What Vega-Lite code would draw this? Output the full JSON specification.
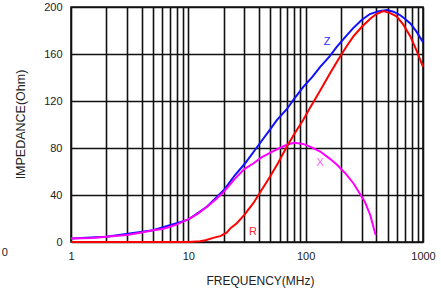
{
  "$schema": "https://vega.github.io/schema/vega-lite/v6.json",
  "width": 352,
  "height": 235,
  "autosize": {"type": "none"},
  "padding": {"left": 71, "top": 7, "right": 18, "bottom": 48},
  "background": "white",
  "config": {
    "view": {"stroke": "#111", "strokeWidth": 1.6},
    "font": "Liberation Sans"
  },
  "resolve": {"scale": {"color": "independent"}},
  "datasets": {
    "curves": [
      {"series": "Z", "f": 1, "v": 3},
      {"series": "Z", "f": 2, "v": 4.5},
      {"series": "Z", "f": 5, "v": 10},
      {"series": "Z", "f": 10, "v": 19},
      {"series": "Z", "f": 14.4, "v": 30},
      {"series": "Z", "f": 20, "v": 44},
      {"series": "Z", "f": 25, "v": 57},
      {"series": "Z", "f": 30.5, "v": 67},
      {"series": "Z", "f": 40, "v": 83},
      {"series": "Z", "f": 50, "v": 96},
      {"series": "Z", "f": 57, "v": 104},
      {"series": "Z", "f": 69, "v": 113},
      {"series": "Z", "f": 80, "v": 122},
      {"series": "Z", "f": 95.5, "v": 132},
      {"series": "Z", "f": 115, "v": 141},
      {"series": "Z", "f": 133, "v": 149},
      {"series": "Z", "f": 160, "v": 158},
      {"series": "Z", "f": 184, "v": 166},
      {"series": "Z", "f": 220, "v": 175},
      {"series": "Z", "f": 254, "v": 182},
      {"series": "Z", "f": 300, "v": 189},
      {"series": "Z", "f": 353, "v": 194},
      {"series": "Z", "f": 420, "v": 196.5},
      {"series": "Z", "f": 495, "v": 197.5},
      {"series": "Z", "f": 560, "v": 196},
      {"series": "Z", "f": 640, "v": 193},
      {"series": "Z", "f": 700, "v": 190},
      {"series": "Z", "f": 780, "v": 186},
      {"series": "Z", "f": 880, "v": 179},
      {"series": "Z", "f": 1000, "v": 170},
      {"series": "X", "f": 1, "v": 3},
      {"series": "X", "f": 1.5, "v": 3.5},
      {"series": "X", "f": 2, "v": 4.5},
      {"series": "X", "f": 3, "v": 6},
      {"series": "X", "f": 4, "v": 8},
      {"series": "X", "f": 5, "v": 10},
      {"series": "X", "f": 6, "v": 11},
      {"series": "X", "f": 7, "v": 13},
      {"series": "X", "f": 8, "v": 15},
      {"series": "X", "f": 10, "v": 19.5},
      {"series": "X", "f": 12, "v": 24},
      {"series": "X", "f": 14.4, "v": 30},
      {"series": "X", "f": 17, "v": 36},
      {"series": "X", "f": 20, "v": 42.5},
      {"series": "X", "f": 25, "v": 54},
      {"series": "X", "f": 30, "v": 62},
      {"series": "X", "f": 36, "v": 67},
      {"series": "X", "f": 42, "v": 72},
      {"series": "X", "f": 50, "v": 76},
      {"series": "X", "f": 60, "v": 80},
      {"series": "X", "f": 70, "v": 83},
      {"series": "X", "f": 80, "v": 84.5},
      {"series": "X", "f": 95, "v": 83.5},
      {"series": "X", "f": 110, "v": 81},
      {"series": "X", "f": 133, "v": 77},
      {"series": "X", "f": 160, "v": 71},
      {"series": "X", "f": 184, "v": 66},
      {"series": "X", "f": 220, "v": 58},
      {"series": "X", "f": 255, "v": 50},
      {"series": "X", "f": 290, "v": 41},
      {"series": "X", "f": 320, "v": 34},
      {"series": "X", "f": 355, "v": 23},
      {"series": "X", "f": 380, "v": 12},
      {"series": "X", "f": 395, "v": 6},
      {"series": "R", "f": 1, "v": 0},
      {"series": "R", "f": 5, "v": 0},
      {"series": "R", "f": 10, "v": 0},
      {"series": "R", "f": 12.6, "v": 0.7},
      {"series": "R", "f": 14, "v": 1.5},
      {"series": "R", "f": 16.3, "v": 3.5},
      {"series": "R", "f": 18.7, "v": 5},
      {"series": "R", "f": 21.2, "v": 8},
      {"series": "R", "f": 23, "v": 12},
      {"series": "R", "f": 25.9, "v": 16},
      {"series": "R", "f": 30, "v": 23},
      {"series": "R", "f": 35.8, "v": 33},
      {"series": "R", "f": 42, "v": 44},
      {"series": "R", "f": 49.6, "v": 55.6},
      {"series": "R", "f": 58, "v": 67},
      {"series": "R", "f": 69, "v": 81},
      {"series": "R", "f": 80, "v": 92},
      {"series": "R", "f": 95.5, "v": 104},
      {"series": "R", "f": 110, "v": 115},
      {"series": "R", "f": 133, "v": 129},
      {"series": "R", "f": 160, "v": 143},
      {"series": "R", "f": 196, "v": 157.7},
      {"series": "R", "f": 225, "v": 167},
      {"series": "R", "f": 255, "v": 175},
      {"series": "R", "f": 300, "v": 183},
      {"series": "R", "f": 355, "v": 190},
      {"series": "R", "f": 400, "v": 194},
      {"series": "R", "f": 460, "v": 196.6},
      {"series": "R", "f": 520, "v": 195},
      {"series": "R", "f": 595, "v": 192},
      {"series": "R", "f": 680, "v": 185},
      {"series": "R", "f": 780, "v": 175},
      {"series": "R", "f": 880, "v": 163},
      {"series": "R", "f": 1000, "v": 149}
    ],
    "labels": [
      {"series": "Z", "f": 152, "v": 170, "t": "Z"},
      {"series": "X", "f": 133, "v": 67, "t": "X"},
      {"series": "R", "f": 35.6, "v": 8.5, "t": "R"}
    ],
    "stray": [
      {"f": 0.273, "v": -9.4, "t": "0"}
    ]
  },
  "layer": [
    {
      "data": {"name": "curves"},
      "transform": [{"filter": "datum.series === 'Z'"}],
      "mark": {"type": "line", "strokeWidth": 2, "clip": true},
      "encoding": {
        "x": {
          "field": "f", "type": "quantitative",
          "scale": {"type": "log", "domain": [1, 1000], "nice": false},
          "axis": {
            "values": [1,2,3,4,5,6,7,8,9,10,20,30,40,50,60,70,80,90,100,200,300,400,500,600,700,800,900,1000],
            "format": "d",
            "labelExpr": "indexof([1,10,100,1000], datum.value) >= 0 ? datum.label : ''",
            "labelOverlap": false,
            "labelFlush": false,
            "grid": true, "gridColor": "#111", "gridOpacity": 1, "gridWidth": 1.6,
            "ticks": false, "domain": false,
            "labelPadding": 8, "labelFontSize": 11, "labelColor": "#222",
            "title": "FREQUENCY(MHz)", "titleFontWeight": "normal", "titleFontSize": 12,
            "titleColor": "#222", "titleX": 189, "titleY": 38, "titleBaseline": "middle", "titleAlign": "center"
          }
        },
        "y": {
          "field": "v", "type": "quantitative",
          "scale": {"domain": [0, 200], "nice": false},
          "axis": {
            "values": [0,20,40,60,80,100,120,140,160,180,200],
            "labelExpr": "datum.value % 40 === 0 ? datum.label : ''",
            "labelOverlap": false,
            "labelFlush": false,
            "grid": true, "gridColor": "#111", "gridOpacity": 1, "gridWidth": 1.6,
            "ticks": false, "domain": false,
            "labelPadding": 9, "labelFontSize": 11, "labelColor": "#222",
            "title": "IMPEDANCE(Ohm)", "titleFontWeight": "normal", "titleFontSize": 12.5,
            "titleColor": "#222", "titleX": -51, "titleY": 117, "titleAngle": -90,
            "titleBaseline": "middle", "titleAlign": "center"
          }
        },
        "color": {
          "field": "series", "type": "nominal",
          "scale": {"domain": ["Z"], "range": ["#1010ff"]},
          "legend": null
        }
      }
    },
    {
      "data": {"name": "curves"},
      "transform": [{"filter": "datum.series === 'X'"}],
      "mark": {"type": "line", "strokeWidth": 2, "clip": true},
      "encoding": {
        "x": {"field": "f", "type": "quantitative"},
        "y": {"field": "v", "type": "quantitative"},
        "color": {
          "field": "series", "type": "nominal",
          "scale": {"domain": ["X"], "range": ["#ff00ff"]},
          "legend": null
        }
      }
    },
    {
      "data": {"name": "curves"},
      "transform": [{"filter": "datum.series === 'R'"}],
      "mark": {"type": "line", "strokeWidth": 2, "clip": false},
      "encoding": {
        "x": {"field": "f", "type": "quantitative"},
        "y": {"field": "v", "type": "quantitative"},
        "color": {
          "field": "series", "type": "nominal",
          "scale": {"domain": ["R"], "range": ["#ff0000"]},
          "legend": null
        }
      }
    },
    {
      "data": {"name": "labels"},
      "mark": {"type": "text", "fontSize": 11, "align": "center", "baseline": "middle"},
      "encoding": {
        "x": {"field": "f", "type": "quantitative"},
        "y": {"field": "v", "type": "quantitative"},
        "text": {"field": "t"},
        "color": {
          "field": "series", "type": "nominal",
          "scale": {"domain": ["Z", "X", "R"], "range": ["#2a2aff", "#ff5cff", "#ff2a2a"]},
          "legend": null
        }
      }
    },
    {
      "data": {"name": "stray"},
      "mark": {"type": "text", "fontSize": 11, "align": "center", "baseline": "middle", "color": "#222"},
      "encoding": {
        "x": {"field": "f", "type": "quantitative"},
        "y": {"field": "v", "type": "quantitative"},
        "text": {"field": "t"}
      }
    }
  ]
}
